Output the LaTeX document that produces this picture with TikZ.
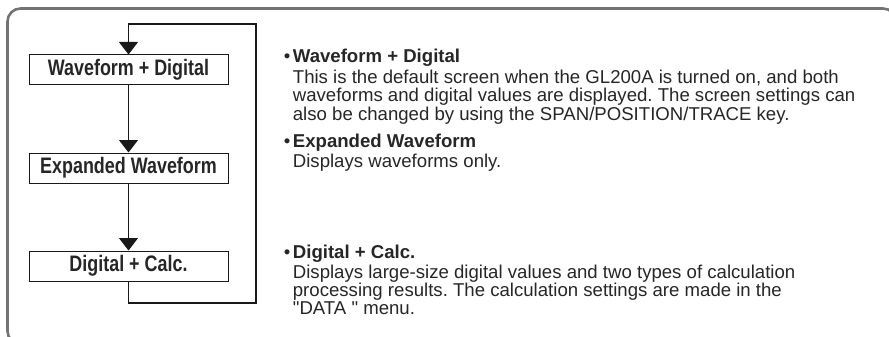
\documentclass[tikz,border=0pt]{standalone}
\usepackage{fontspec}
\setmainfont{Liberation Sans}[Ligatures=TeXOff]
\newfontfamily\boxfont[FakeStretch=0.8]{Liberation Sans}
\usetikzlibrary{arrows.meta}
\frenchspacing

\newcommand{\bul}{\llap{•\hspace{2.5pt}}}

\begin{document}
\begin{tikzpicture}[x=1pt, y=-1pt,
		modebox/.style={draw=black!90, line width=1pt, minimum width=199pt, minimum height=30pt,
			inner sep=0pt, font=\boxfont\bfseries\fontsize{22.4}{24}\selectfont, text=black!85},
		link/.style={draw=black!90, line width=1.1pt, -{Triangle[width=19pt,length=12.5pt]}},
		item/.style={anchor=base west, inner sep=0pt, text=black!85,
			font=\fontsize{18.6}{17.7}\selectfont},
		frame/.style={draw=black!55, line width=2.6pt, rounded corners=13pt}]
			\useasboundingbox (0,0) rectangle (889,337);
			\clip (0,0) rectangle (889,337);

			% outer frame (runs off the right and bottom edges)
			\draw [frame] (7.5,8.5) rectangle (896,344);

			% display modes
			\node[modebox] (wave) at (128.5,70) {Waveform + Digital};
			\node[modebox] (expand) at (128.5,168) {Expanded Waveform};
			\node[modebox] (calc) at (128.5,266) {Digital + Calc.};

			% arrows between modes
			\draw [link] (wave.south) -- (expand.north);
			\draw [link] (expand.south) -- (calc.north);
			% loop back to the first mode
			\coordinate (loopbr) at (256,303);
			\coordinate (looptr) at (256,24);
			\draw [link] (calc.south) |- (loopbr) -- (looptr) -| (wave.north);

			% descriptions
			\node[item] (wavetxt) at (292.7,63) {\begin{tabular}[t]{@{}l@{}}
				\bul\textbf{Waveform + Digital}\\[1.3pt]
				This is the default screen when the GL200A is turned on, and both\\
				waveforms and digital values are displayed. The screen settings can\\
				also be changed by using the SPAN/POSITION/TRACE key.
				\end{tabular}};
			\node[item] (expandtxt) at (292.7,147) {\begin{tabular}[t]{@{}l@{}}
				\bul\textbf{Expanded Waveform}\\[1.3pt]
				Displays waveforms only.
				\end{tabular}};
			\node[item] (calctxt) at (292.7,258) {\begin{tabular}[t]{@{}l@{}}
				\bul\textbf{Digital + Calc.}\\[1.3pt]
				Displays large-size digital values and two types of calculation\\
				processing results. The calculation settings are made in the\\
				"DATA " menu.
				\end{tabular}};

		\end{tikzpicture}
\end{document}
